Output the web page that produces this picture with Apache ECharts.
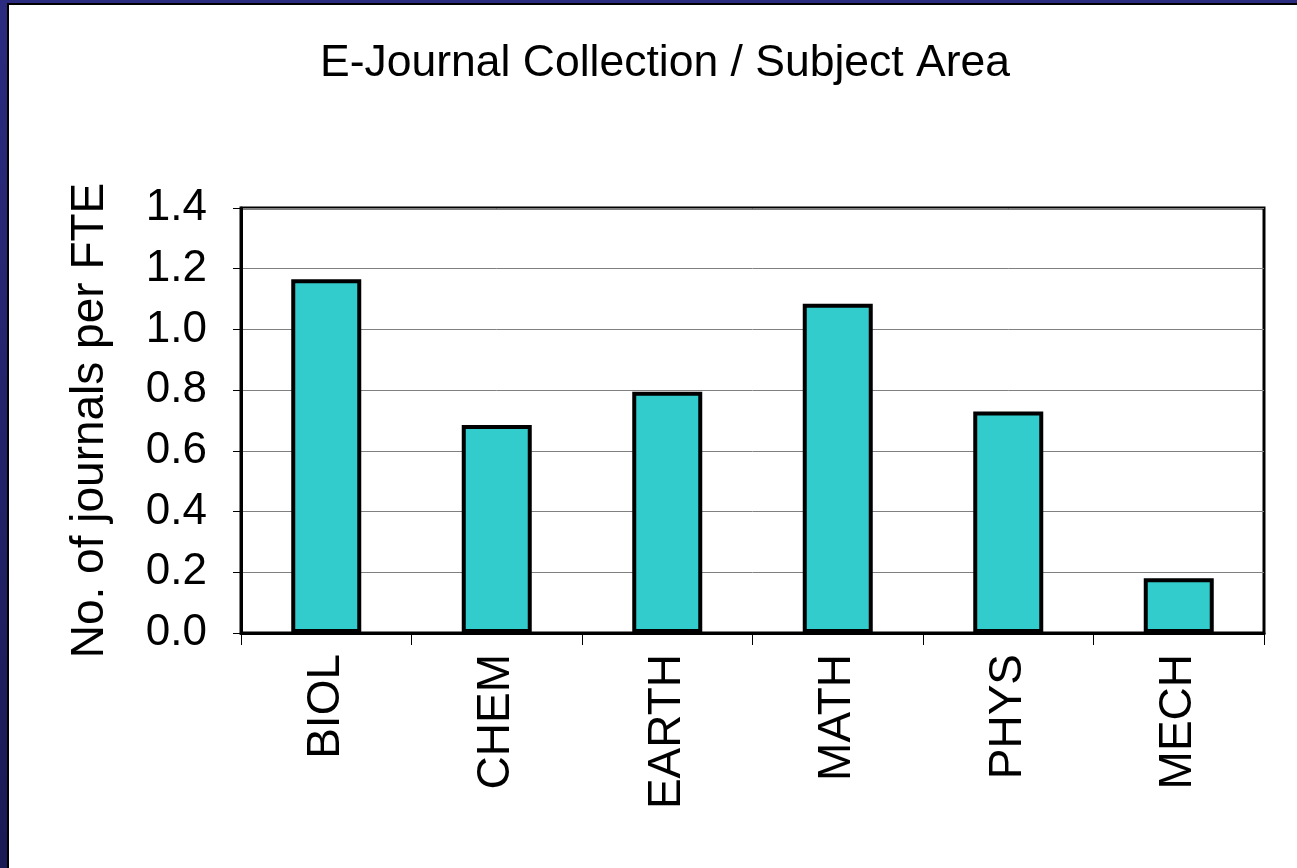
<!DOCTYPE html>
<html>
<head>
<meta charset="utf-8">
<script src="https://cdn.jsdelivr.net/npm/echarts@6/dist/echarts.min.js"></script>
<style>
html,body{margin:0;padding:0;background:#fff;}
#chart{width:1297px;height:868px;}
</style>
</head>
<body>
<div id="chart"></div>
<script>
const categories = ['BIOL', 'CHEM', 'EARTH', 'MATH', 'PHYS', 'MECH'];
const values = [1.165, 0.685, 0.795, 1.085, 0.73, 0.18];
const titleText = 'E-Journal Collection / Subject Area';
const yAxisName = 'No. of journals per FTE';

const chart = echarts.init(document.getElementById('chart'), null, {renderer: 'canvas'});
const font = 'Arial, "Liberation Sans", sans-serif';
chart.setOption({
  backgroundColor: '#ffffff',
  animation: false,
  title: {
    text: titleText,
    left: 315,
    top: 36,
    textStyle: {fontFamily: font, fontSize: 44.5, fontWeight: 'normal', color: '#000'}
  },
  graphic: [
    {type: 'rect', left: 0, top: 0, shape: {width: 1297, height: 3}, style: {fill: '#2b2b80'}, z: 100},
    {type: 'rect', left: 0, top: 3, shape: {width: 1297, height: 2}, style: {fill: '#000'}, z: 100},
    {type: 'rect', left: 0, top: 0, shape: {width: 7, height: 868}, style: {fill: new echarts.graphic.LinearGradient(0, 0, 0, 1, [{offset: 0, color: '#2b2b80'}, {offset: 1, color: '#1a1a55'}])}, z: 100},
    {type: 'rect', left: 7, top: 3, shape: {width: 2, height: 865}, style: {fill: '#000'}, z: 100}
  ],
  grid: {
    left: 241, right: 33, top: 208, bottom: 235,
    show: true, borderColor: '#000', borderWidth: 3, backgroundColor: 'transparent'
  },
  xAxis: {
    type: 'category',
    data: categories,
    axisLine: {show: true, lineStyle: {color: '#000', width: 3}},
    axisTick: {show: true, alignWithLabel: false, length: 12, lineStyle: {color: '#000', width: 1}},
    axisLabel: {rotate: 90, margin: 21, fontFamily: font, fontSize: 46, color: '#000'}
  },
  yAxis: {
    type: 'value',
    min: 0, max: 1.4, interval: 0.2,
    name: yAxisName,
    nameLocation: 'middle',
    nameGap: 128,
    nameRotate: 90,
    nameTextStyle: {fontFamily: font, fontSize: 46, color: '#000'},
    axisLine: {show: true, lineStyle: {color: '#000', width: 3}},
    axisTick: {show: true, length: 8, lineStyle: {color: '#000', width: 1}},
    axisLabel: {margin: 34, fontFamily: font, fontSize: 44, color: '#000', formatter: v => v.toFixed(1)},
    splitLine: {show: true, lineStyle: {color: '#808080', width: 1}}
  },
  series: [{
    type: 'bar',
    data: values,
    barWidth: 70,
    itemStyle: {color: '#33CCCC', borderColor: '#000', borderWidth: 4}
  }]
});
</script>
</body>
</html>
